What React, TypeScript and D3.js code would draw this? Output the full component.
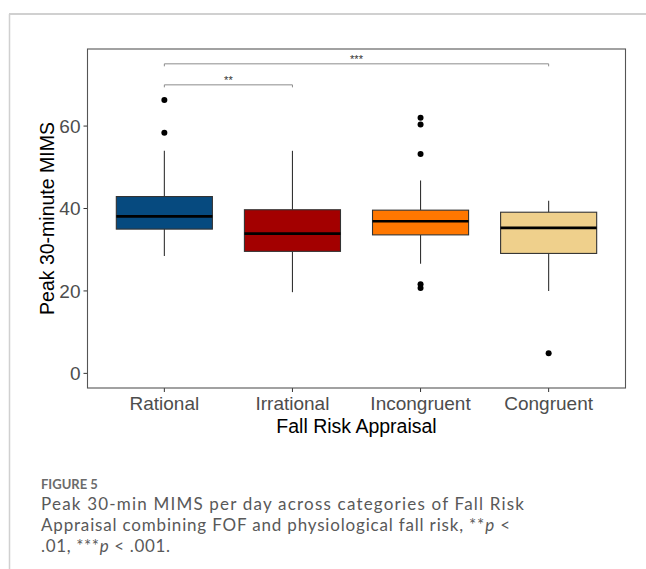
import React from 'react';
import * as d3 from 'd3';

// categories and boxplot summaries
const categories = ['Rational', 'Irrational', 'Incongruent', 'Congruent'];
const fills = ['#064a7f', '#a30000', '#ff7700', '#efd08c'];
const q1 = [35.0, 29.6, 33.6, 29.1];
const medians = [38.1, 33.9, 36.9, 35.3];
const q3 = [42.9, 39.7, 39.6, 39.1];
const whiskerLow = [28.5, 19.7, 26.6, 20.0];
const whiskerHigh = [54.0, 54.0, 46.8, 41.9];
const outliers = [[66.3, 58.4], [], [62.0, 60.4, 53.2, 21.6, 20.7], [4.9]];
const yTicks = [0, 20, 40, 60];

// significance brackets: [from, to, height, label]
const brackets: [number, number, number, string][] = [
  [0, 1, 70.0, '**'],
  [0, 3, 75.1, '***'],
];

const captionLines = [
  'Peak 30-min MIMS per day across categories of Fall Risk',
  'Appraisal combining FOF and physiological fall risk, **',
];

const App = () => {
  const width = 646;
  const height = 569;
  const panel = { left: 87.5, right: 625.5, top: 49, bottom: 388 };

  // discrete x scale with ggplot-like 0.6 expansion on each side
  const xScale = d3
    .scalePoint<string>()
    .domain(categories)
    .range([panel.left, panel.right])
    .padding(0.6);
  const step = xScale.step();
  const boxW = step * 0.75;

  const yScale = d3.scaleLinear().domain([-3.55, 78.7]).range([panel.bottom, panel.top]);

  const tickColor = '#4d4d4d';
  const font = '"Liberation Sans", Arial, sans-serif';
  const capFont = 'Lato, "Open Sans", sans-serif';

  const boxes = categories.map((c, i) => {
    const cx = xScale(c) as number;
    return (
      <g key={c}>
        <line x1={cx} x2={cx} y1={yScale(q3[i])} y2={yScale(whiskerHigh[i])} stroke="#333" strokeWidth={1.1} />
        <line x1={cx} x2={cx} y1={yScale(q1[i])} y2={yScale(whiskerLow[i])} stroke="#333" strokeWidth={1.1} />
        <rect
          x={cx - boxW / 2}
          y={yScale(q3[i])}
          width={boxW}
          height={yScale(q1[i]) - yScale(q3[i])}
          fill={fills[i]}
          stroke="#333"
          strokeWidth={1.1}
        />
        <line x1={cx - boxW / 2} x2={cx + boxW / 2} y1={yScale(medians[i])} y2={yScale(medians[i])} stroke="#000" strokeWidth={2.6} />
        {outliers[i].map((v, j) => (
          <circle key={j} cx={cx} cy={yScale(v)} r={3} fill="#000" />
        ))}
      </g>
    );
  });

  const bracketMarks = brackets.map(([a, b, h, label], i) => {
    const x1 = xScale(categories[a]) as number;
    const x2 = xScale(categories[b]) as number;
    const y = yScale(h);
    return (
      <g key={i}>
        <path d={`M${x1},${y + 2.5}V${y}H${x2}V${y + 2.5}`} fill="none" stroke="#8c8c8c" strokeWidth={1} />
        <text x={(x1 + x2) / 2} y={y - 1} textAnchor="middle" fontSize={11} fill="#333" fontFamily={font}>
          {label}
        </text>
      </g>
    );
  });

  return (
    <svg width={width} height={height} style={{ position: 'absolute', left: 0, top: 0, background: '#fff' }}>
      {/* page frame lines */}
      <line x1={9} x2={width} y1={14} y2={14} stroke="#d0d0d0" strokeWidth={2} />
      <line x1={9.5} x2={9.5} y1={14} y2={height} stroke="#d0d0d0" strokeWidth={1.5} />

      {/* y ticks */}
      {yTicks.map((t) => (
        <g key={t}>
          <line x1={panel.left - 4} x2={panel.left} y1={yScale(t)} y2={yScale(t)} stroke="#333" strokeWidth={1} />
          <text x={panel.left - 7} y={yScale(t)} dy="0.36em" textAnchor="end" fontSize={19} fill={tickColor} fontFamily={font}>
            {t}
          </text>
        </g>
      ))}

      {/* x ticks */}
      {categories.map((c) => (
        <g key={c}>
          <line x1={xScale(c)} x2={xScale(c)} y1={panel.bottom} y2={panel.bottom + 4} stroke="#333" strokeWidth={1} />
          <text x={xScale(c)} y={panel.bottom + 22} textAnchor="middle" fontSize={19} fill={tickColor} fontFamily={font}>
            {c}
          </text>
        </g>
      ))}

      {boxes}
      {bracketMarks}

      <rect
        x={panel.left}
        y={panel.top}
        width={panel.right - panel.left}
        height={panel.bottom - panel.top}
        fill="none"
        stroke="#555"
        strokeWidth={1.1}
      />

      {/* axis titles */}
      <text x={(panel.left + panel.right) / 2} y={433} textAnchor="middle" fontSize={19.5} fill="#000" fontFamily={font}>
        Fall Risk Appraisal
      </text>
      <text
        transform={`translate(${54},${(panel.top + panel.bottom) / 2}) rotate(-90)`}
        textAnchor="middle"
        fontSize={19.5}
        fill="#000"
        fontFamily={font}
      >
        Peak 30-minute MIMS
      </text>

      {/* caption */}
      <text x={41} y={489} fontSize={13} fontWeight={700} fill="#6b6b6b" fontFamily={capFont}>
        FIGURE 5
      </text>
      <g fontFamily={capFont} fontSize={17} fill="#595959" fontWeight={400}>
        <text x={41} y={510} textLength={483} lengthAdjust="spacing">{captionLines[0]}</text>
        <text x={41} y={531} textLength={469} lengthAdjust="spacing">
          {captionLines[1]}
          <tspan fontStyle="italic">p</tspan> &lt;
        </text>
        <text x={41} y={552} textLength={129} lengthAdjust="spacing">
          .01, ***<tspan fontStyle="italic">p</tspan> &lt; .001.
        </text>
      </g>
    </svg>
  );
};

export default App;
